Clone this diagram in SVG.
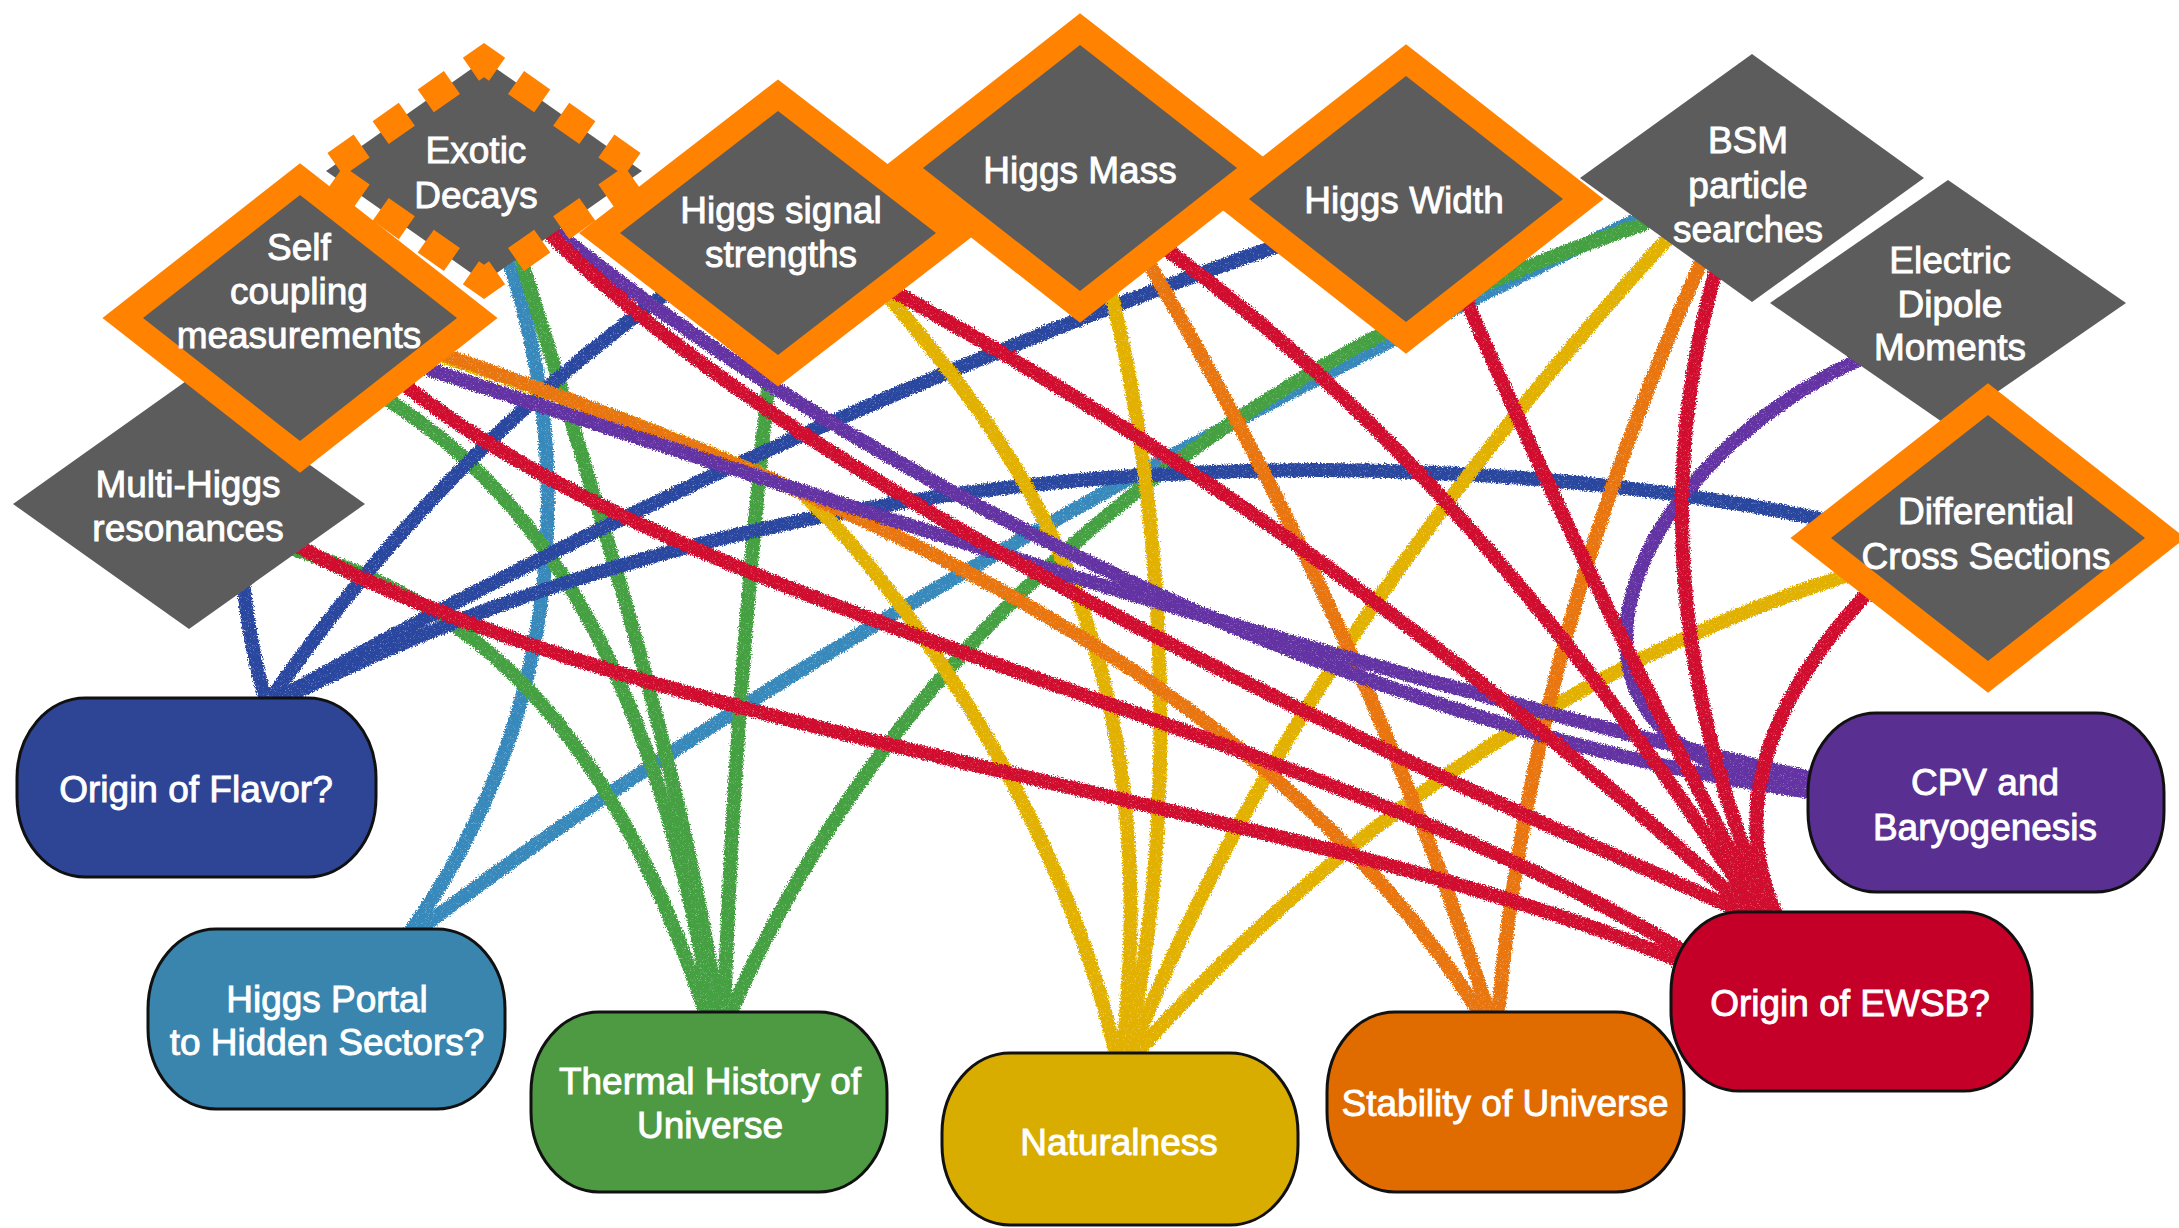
<svg xmlns="http://www.w3.org/2000/svg" width="2179" height="1228" viewBox="0 0 2179 1228">
  <defs>
    <style>
      .dia { fill: #5c5c5c; }
      .hl { stroke: #ff8200; stroke-width: 50; stroke-linejoin: miter; paint-order: stroke; }
      .dash { fill: none; stroke: #ff8200; stroke-width: 28; stroke-dasharray: 32 23.17; stroke-dashoffset: 16; }
      .pill { stroke: #111; stroke-width: 3; }
      .lbl { font-family: "Liberation Sans", Arial, Helvetica, sans-serif; font-size: 37px; fill: #fff; stroke: #fff; stroke-width: 0.9px; text-anchor: middle; }
      .c { fill: none; stroke-width: 14; stroke-linecap: round; }
      .blue { stroke: #2a46a0; }
      .teal { stroke: #3889bb; }
      .green { stroke: #45a043; }
      .gold { stroke: #e2b100; }
      .orange { stroke: #e8740a; }
      .purple { stroke: #6331a3; }
      .red { stroke: #d00a2f; }
    </style>
    <!-- rough crayon edge for the hand-drawn connectors -->
    <filter id="crayon" filterUnits="userSpaceOnUse" x="0" y="0" width="2179" height="1228">
      <feTurbulence type="fractalNoise" baseFrequency="0.7" numOctaves="2" seed="7" result="noise"/>
      <feDisplacementMap in="SourceGraphic" in2="noise" scale="6" xChannelSelector="R" yChannelSelector="G" result="rough"/>
      <feTurbulence type="fractalNoise" baseFrequency="1.6" numOctaves="1" seed="2" result="grain"/>
      <feColorMatrix in="grain" type="matrix" values="0 0 0 0 0  0 0 0 0 0  0 0 0 0 0  0 0 0 -2 2.2" result="mask"/>
      <feComposite in="rough" in2="mask" operator="in"/>
    </filter>
  </defs>

  <rect width="2179" height="1228" fill="#fff"/>

  <!-- connectors: each colour runs from a measurement to its question -->
  <g id="connectors" filter="url(#crayon)">
    <!-- Higgs Portal -->
    <path class="c teal" d="M508,258 C570,440 575,700 410,932"/>
    <path class="c teal" d="M1640,218 C1300,380 800,640 416,932"/>
    <!-- Thermal History -->
    <path class="c green" d="M290,548 C460,600 600,700 706,1014"/>
    <path class="c green" d="M380,395 C520,480 650,640 712,1014"/>
    <path class="c green" d="M520,256 C580,450 680,750 718,1014"/>
    <path class="c green" d="M772,350 Q735,690 724,1014"/>
    <path class="c green" d="M1644,224 C1320,330 930,560 730,1014"/>
    <!-- Origin of Flavor -->
    <path class="c blue" d="M243,580 Q250,650 266,700"/>
    <path class="c blue" d="M668,292 Q440,456 270,700"/>
    <path class="c blue" d="M1300,238 Q760,426 276,700"/>
    <path class="c blue" d="M1834,522 C1500,450 850,410 281,700"/>
    <!-- Naturalness -->
    <path class="c gold" d="M888,296 C1010,440 1170,640 1122,1056"/>
    <path class="c gold" d="M445,357 C560,396 700,445 800,492 C880,560 1060,800 1116,1056"/>
    <path class="c gold" d="M1110,290 C1160,480 1185,800 1126,1056"/>
    <path class="c gold" d="M1668,238 Q1292,648 1130,1056"/>
    <path class="c gold" d="M1848,575 Q1450,702 1134,1056"/>
    <!-- Stability of Universe -->
    <path class="c orange" d="M445,355 C800,480 1250,650 1480,1014"/>
    <path class="c orange" d="M1148,262 Q1371,642 1489,1014"/>
    <path class="c orange" d="M1702,260 Q1531,642 1498,1014"/>
    <!-- CPV and Baryogenesis -->
    <path class="c purple" d="M425,368 C800,490 1300,660 1810,778"/>
    <path class="c purple" d="M556,232 C800,430 1300,720 1810,792"/>
    <path class="c purple" d="M1862,358 C1600,480 1520,760 1810,786"/>
    <!-- Origin of EWSB -->
    <path class="c red" d="M296,545 C650,740 1300,800 1682,962"/>
    <path class="c red" d="M405,385 C700,620 1300,720 1682,950"/>
    <path class="c red" d="M548,232 C780,470 1300,720 1748,914"/>
    <path class="c red" d="M895,292 Q1336,534 1753,914"/>
    <path class="c red" d="M1167,250 Q1477,475 1758,914"/>
    <path class="c red" d="M1466,300 Q1600,610 1764,914"/>
    <path class="c red" d="M1716,270 Q1627,582 1770,914"/>
    <path class="c red" d="M1870,590 Q1709,763 1776,914"/>
  </g>

  <!-- measurement diamonds -->
  <g id="multi-higgs">
    <polygon class="dia" points="189,379 365,504 189,629 13,504"/>
    <text class="lbl" x="188" y="497">Multi-Higgs</text>
    <text class="lbl" x="188" y="541">resonances</text>
  </g>
  <g id="exotic-decays">
    <polygon class="dia" points="484,60 642,171 484,282 326,171"/>
    <polygon class="dash" points="484,60 642,171 484,282 326,171"/>
    <text class="lbl" x="476" y="163">Exotic</text>
    <text class="lbl" x="476" y="208">Decays</text>
  </g>
  <g id="self-coupling">
    <polygon class="dia hl" points="300,195 457,318 300,441 143,318"/>
    <text class="lbl" x="299" y="260">Self</text>
    <text class="lbl" x="299" y="304">coupling</text>
    <text class="lbl" x="299" y="348">measurements</text>
  </g>
  <g id="bsm-searches">
    <polygon class="dia" points="1752,54 1924,178 1752,302 1580,178"/>
    <text class="lbl" x="1748" y="153">BSM</text>
    <text class="lbl" x="1748" y="198">particle</text>
    <text class="lbl" x="1748" y="242">searches</text>
  </g>
  <g id="electric-dipole">
    <polygon class="dia" points="1948,180 2126,303 1948,426 1770,303"/>
    <text class="lbl" x="1950" y="273">Electric</text>
    <text class="lbl" x="1950" y="317">Dipole</text>
    <text class="lbl" x="1950" y="360">Moments</text>
  </g>
  <g id="higgs-mass">
    <polygon class="dia hl" points="1080,45 1237,168 1080,291 923,168"/>
    <text class="lbl" x="1080" y="183">Higgs Mass</text>
  </g>
  <g id="higgs-signal">
    <polygon class="dia hl" points="778,111 936,233 778,355 620,233"/>
    <text class="lbl" x="781" y="223">Higgs signal</text>
    <text class="lbl" x="781" y="267">strengths</text>
  </g>
  <g id="higgs-width">
    <polygon class="dia hl" points="1406,76 1563,199 1406,322 1249,199"/>
    <text class="lbl" x="1404" y="213">Higgs Width</text>
  </g>
  <g id="differential">
    <polygon class="dia hl" points="1988,415 2145,538 1988,661 1831,538"/>
    <text class="lbl" x="1986" y="524">Differential</text>
    <text class="lbl" x="1986" y="569">Cross Sections</text>
  </g>

  <!-- physics questions -->
  <g id="origin-flavor">
    <rect class="pill" x="17" y="698" width="359" height="179" rx="68" ry="80" fill="#2e4596"/>
    <text class="lbl" x="196" y="802">Origin of Flavor?</text>
  </g>
  <g id="higgs-portal">
    <rect class="pill" x="148" y="929" width="357" height="180" rx="68" ry="80" fill="#3a85ae"/>
    <text class="lbl" x="327" y="1012">Higgs Portal</text>
    <text class="lbl" x="327" y="1055">to Hidden Sectors?</text>
  </g>
  <g id="thermal-history">
    <rect class="pill" x="531" y="1012" width="356" height="180" rx="68" ry="80" fill="#4e9a43"/>
    <text class="lbl" x="710" y="1094">Thermal History of</text>
    <text class="lbl" x="710" y="1138">Universe</text>
  </g>
  <g id="naturalness">
    <rect class="pill" x="942" y="1053" width="356" height="172" rx="68" ry="80" fill="#d9ad00"/>
    <text class="lbl" x="1119" y="1155">Naturalness</text>
  </g>
  <g id="stability">
    <rect class="pill" x="1327" y="1012" width="357" height="180" rx="68" ry="80" fill="#e06c00"/>
    <text class="lbl" x="1505" y="1116">Stability of Universe</text>
  </g>
  <g id="origin-ewsb">
    <rect class="pill" x="1671" y="912" width="361" height="179" rx="68" ry="80" fill="#c40028"/>
    <text class="lbl" x="1850" y="1016">Origin of EWSB?</text>
  </g>
  <g id="cpv-baryogenesis">
    <rect class="pill" x="1808" y="713" width="356" height="179" rx="68" ry="80" fill="#5a2f92"/>
    <text class="lbl" x="1985" y="795">CPV and</text>
    <text class="lbl" x="1985" y="840">Baryogenesis</text>
  </g>
</svg>
